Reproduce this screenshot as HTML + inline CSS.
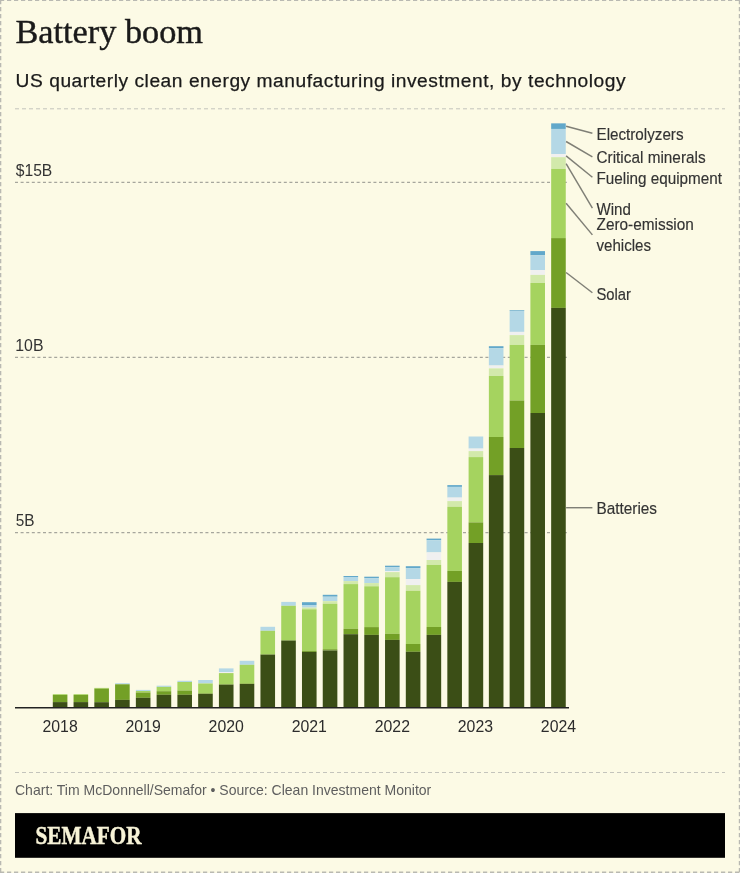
<!DOCTYPE html>
<html lang="en">
<head>
<meta charset="utf-8">
<title>Battery boom</title>
<style>
html,body{margin:0;padding:0;background:#fcfae5;}
body{width:740px;height:873px;background:#fcfae5;position:relative;overflow:hidden;font-family:"Liberation Sans",sans-serif;color:#333;}
#wrap{position:absolute;left:0;top:0;width:740px;height:873px;background:#fcfae5;}
svg{position:absolute;left:0;top:0;}
text.sa{font-family:"Liberation Sans",sans-serif;}
text.se{font-family:"Liberation Serif",serif;}
</style>
</head>
<body>
<div id="wrap">
<svg width="740" height="873" viewBox="0 0 740 873">
<g stroke="#b9b9b2" stroke-dasharray="4.2 2.8" fill="none">
<line x1="0" y1="0.5" x2="740" y2="0.5" stroke-width="1.1"/>
<line x1="0" y1="872.3" x2="740" y2="872.3" stroke-width="1.4"/>
<line x1="0.65" y1="0" x2="0.65" y2="873" stroke-width="1.3"/>
<line x1="739.4" y1="0" x2="739.4" y2="873" stroke-width="1.2"/>
</g>
<line x1="15" y1="108.8" x2="725" y2="108.8" stroke="#c4c4bc" stroke-width="1" stroke-dasharray="4 3"/>
<line x1="15" y1="772.5" x2="725" y2="772.5" stroke="#c4c4bc" stroke-width="1" stroke-dasharray="4 3"/>
<rect x="15" y="813.1" width="710" height="44.7" fill="#000"/>
<g id="grid">
<line x1="15" y1="182.4" x2="568" y2="182.4" stroke="#a6a69d" stroke-width="1.2" stroke-dasharray="3 2.6"/>
<line x1="15" y1="357.4" x2="568" y2="357.4" stroke="#a6a69d" stroke-width="1.2" stroke-dasharray="3 2.6"/>
<line x1="15" y1="532.7" x2="568" y2="532.7" stroke="#a6a69d" stroke-width="1.2" stroke-dasharray="3 2.6"/>
</g>
<g id="bars" shape-rendering="auto">
<rect x="52.8" y="694.2" width="14.6" height="0.8" fill="#a5d35f"/>
<rect x="52.8" y="695" width="14.6" height="7.1" fill="#73a026"/>
<rect x="52.8" y="702.1" width="14.6" height="4.9" fill="#3b4e16"/>
<rect x="73.56" y="694.2" width="14.6" height="0.8" fill="#a5d35f"/>
<rect x="73.56" y="695" width="14.6" height="7.1" fill="#73a026"/>
<rect x="73.56" y="702.1" width="14.6" height="4.9" fill="#3b4e16"/>
<rect x="94.33" y="687.9" width="14.6" height="0.8" fill="#a5d35f"/>
<rect x="94.33" y="688.7" width="14.6" height="13.5" fill="#73a026"/>
<rect x="94.33" y="702.2" width="14.6" height="4.8" fill="#3b4e16"/>
<rect x="115.09" y="683.2" width="14.6" height="1.1" fill="#b4d8e6"/>
<rect x="115.09" y="684.3" width="14.6" height="15.6" fill="#73a026"/>
<rect x="115.09" y="699.9" width="14.6" height="7.1" fill="#3b4e16"/>
<rect x="135.86" y="689.9" width="14.6" height="1.1" fill="#b4d8e6"/>
<rect x="135.86" y="691" width="14.6" height="1.5" fill="#a5d35f"/>
<rect x="135.86" y="692.5" width="14.6" height="5.3" fill="#73a026"/>
<rect x="135.86" y="697.8" width="14.6" height="9.2" fill="#3b4e16"/>
<rect x="156.62" y="685.7" width="14.6" height="1.2" fill="#b4d8e6"/>
<rect x="156.62" y="686.9" width="14.6" height="4.3" fill="#a5d35f"/>
<rect x="156.62" y="691.2" width="14.6" height="3.6" fill="#73a026"/>
<rect x="156.62" y="694.8" width="14.6" height="12.2" fill="#3b4e16"/>
<rect x="177.39" y="680.8" width="14.6" height="1.2" fill="#b4d8e6"/>
<rect x="177.39" y="682" width="14.6" height="8.5" fill="#a5d35f"/>
<rect x="177.39" y="690.5" width="14.6" height="4.3" fill="#73a026"/>
<rect x="177.39" y="694.8" width="14.6" height="12.2" fill="#3b4e16"/>
<rect x="198.16" y="680" width="14.6" height="3.5" fill="#b4d8e6"/>
<rect x="198.16" y="683.5" width="14.6" height="9.8" fill="#a5d35f"/>
<rect x="198.16" y="693.3" width="14.6" height="0.6" fill="#73a026"/>
<rect x="198.16" y="693.9" width="14.6" height="13.1" fill="#3b4e16"/>
<rect x="218.92" y="668.4" width="14.6" height="3.6" fill="#b4d8e6"/>
<rect x="218.92" y="672" width="14.6" height="1.1" fill="#f0f0f0"/>
<rect x="218.92" y="673.1" width="14.6" height="11.1" fill="#a5d35f"/>
<rect x="218.92" y="684.2" width="14.6" height="0.5" fill="#73a026"/>
<rect x="218.92" y="684.7" width="14.6" height="22.3" fill="#3b4e16"/>
<rect x="239.69" y="660.8" width="14.6" height="4" fill="#b4d8e6"/>
<rect x="239.69" y="664.8" width="14.6" height="18.6" fill="#a5d35f"/>
<rect x="239.69" y="683.4" width="14.6" height="0.6" fill="#73a026"/>
<rect x="239.69" y="684" width="14.6" height="23" fill="#3b4e16"/>
<rect x="260.45" y="626.8" width="14.6" height="4" fill="#b4d8e6"/>
<rect x="260.45" y="630.8" width="14.6" height="23.4" fill="#a5d35f"/>
<rect x="260.45" y="654.2" width="14.6" height="0.5" fill="#73a026"/>
<rect x="260.45" y="654.7" width="14.6" height="52.3" fill="#3b4e16"/>
<rect x="281.22" y="601.9" width="14.6" height="3.9" fill="#b4d8e6"/>
<rect x="281.22" y="605.8" width="14.6" height="34.4" fill="#a5d35f"/>
<rect x="281.22" y="640.2" width="14.6" height="0.4" fill="#73a026"/>
<rect x="281.22" y="640.6" width="14.6" height="66.4" fill="#3b4e16"/>
<rect x="301.98" y="602.2" width="14.6" height="2.8" fill="#62a8ca"/>
<rect x="301.98" y="605" width="14.6" height="2.6" fill="#b4d8e6"/>
<rect x="301.98" y="607.6" width="14.6" height="1.7" fill="#d2e9ab"/>
<rect x="301.98" y="609.3" width="14.6" height="41.5" fill="#a5d35f"/>
<rect x="301.98" y="650.8" width="14.6" height="1.1" fill="#73a026"/>
<rect x="301.98" y="651.9" width="14.6" height="55.1" fill="#3b4e16"/>
<rect x="322.75" y="594.8" width="14.6" height="1.9" fill="#62a8ca"/>
<rect x="322.75" y="596.7" width="14.6" height="4.5" fill="#b4d8e6"/>
<rect x="322.75" y="601.2" width="14.6" height="2.6" fill="#d2e9ab"/>
<rect x="322.75" y="603.8" width="14.6" height="45.4" fill="#a5d35f"/>
<rect x="322.75" y="649.2" width="14.6" height="1.3" fill="#73a026"/>
<rect x="322.75" y="650.5" width="14.6" height="56.5" fill="#3b4e16"/>
<rect x="343.51" y="576" width="14.6" height="1" fill="#62a8ca"/>
<rect x="343.51" y="577" width="14.6" height="4.1" fill="#b4d8e6"/>
<rect x="343.51" y="581.1" width="14.6" height="3" fill="#d2e9ab"/>
<rect x="343.51" y="584.1" width="14.6" height="44.7" fill="#a5d35f"/>
<rect x="343.51" y="628.8" width="14.6" height="5.4" fill="#73a026"/>
<rect x="343.51" y="634.2" width="14.6" height="72.8" fill="#3b4e16"/>
<rect x="364.28" y="576.7" width="14.6" height="1.4" fill="#62a8ca"/>
<rect x="364.28" y="578.1" width="14.6" height="5" fill="#b4d8e6"/>
<rect x="364.28" y="583.1" width="14.6" height="3.2" fill="#d2e9ab"/>
<rect x="364.28" y="586.3" width="14.6" height="40.8" fill="#a5d35f"/>
<rect x="364.28" y="627.1" width="14.6" height="7.8" fill="#73a026"/>
<rect x="364.28" y="634.9" width="14.6" height="72.1" fill="#3b4e16"/>
<rect x="385.04" y="565.7" width="14.6" height="1.4" fill="#62a8ca"/>
<rect x="385.04" y="567.1" width="14.6" height="4.1" fill="#b4d8e6"/>
<rect x="385.04" y="571.2" width="14.6" height="0.9" fill="#f0f0f0"/>
<rect x="385.04" y="572.1" width="14.6" height="5.1" fill="#d2e9ab"/>
<rect x="385.04" y="577.2" width="14.6" height="56.6" fill="#a5d35f"/>
<rect x="385.04" y="633.8" width="14.6" height="6.1" fill="#73a026"/>
<rect x="385.04" y="639.9" width="14.6" height="67.1" fill="#3b4e16"/>
<rect x="405.81" y="566.2" width="14.6" height="1.9" fill="#62a8ca"/>
<rect x="405.81" y="568.1" width="14.6" height="10.9" fill="#b4d8e6"/>
<rect x="405.81" y="579" width="14.6" height="6.1" fill="#f0f0f0"/>
<rect x="405.81" y="585.1" width="14.6" height="5.7" fill="#d2e9ab"/>
<rect x="405.81" y="590.8" width="14.6" height="53.2" fill="#a5d35f"/>
<rect x="405.81" y="644" width="14.6" height="7.8" fill="#73a026"/>
<rect x="405.81" y="651.8" width="14.6" height="55.2" fill="#3b4e16"/>
<rect x="426.57" y="538.6" width="14.6" height="1.6" fill="#62a8ca"/>
<rect x="426.57" y="540.2" width="14.6" height="12.2" fill="#b4d8e6"/>
<rect x="426.57" y="552.4" width="14.6" height="7.6" fill="#f0f0f0"/>
<rect x="426.57" y="560" width="14.6" height="4.9" fill="#d2e9ab"/>
<rect x="426.57" y="564.9" width="14.6" height="62.1" fill="#a5d35f"/>
<rect x="426.57" y="627" width="14.6" height="7.9" fill="#73a026"/>
<rect x="426.57" y="634.9" width="14.6" height="72.1" fill="#3b4e16"/>
<rect x="447.34" y="485.1" width="14.6" height="1.8" fill="#62a8ca"/>
<rect x="447.34" y="486.9" width="14.6" height="10.7" fill="#b4d8e6"/>
<rect x="447.34" y="497.6" width="14.6" height="3.5" fill="#f0f0f0"/>
<rect x="447.34" y="501.1" width="14.6" height="5.7" fill="#d2e9ab"/>
<rect x="447.34" y="506.8" width="14.6" height="64.1" fill="#a5d35f"/>
<rect x="447.34" y="570.9" width="14.6" height="11" fill="#73a026"/>
<rect x="447.34" y="581.9" width="14.6" height="125.1" fill="#3b4e16"/>
<rect x="468.6" y="436.5" width="14.6" height="12.1" fill="#b4d8e6"/>
<rect x="468.6" y="448.6" width="14.6" height="2.5" fill="#f0f0f0"/>
<rect x="468.6" y="451.1" width="14.6" height="6" fill="#d2e9ab"/>
<rect x="468.6" y="457.1" width="14.6" height="65.3" fill="#a5d35f"/>
<rect x="468.6" y="522.4" width="14.6" height="20.6" fill="#73a026"/>
<rect x="468.6" y="543" width="14.6" height="164" fill="#3b4e16"/>
<rect x="488.87" y="346.2" width="14.6" height="1.9" fill="#62a8ca"/>
<rect x="488.87" y="348.1" width="14.6" height="17.4" fill="#b4d8e6"/>
<rect x="488.87" y="365.5" width="14.6" height="2.9" fill="#f0f0f0"/>
<rect x="488.87" y="368.4" width="14.6" height="7.6" fill="#d2e9ab"/>
<rect x="488.87" y="376" width="14.6" height="61" fill="#a5d35f"/>
<rect x="488.87" y="437" width="14.6" height="38.1" fill="#73a026"/>
<rect x="488.87" y="475.1" width="14.6" height="231.9" fill="#3b4e16"/>
<rect x="509.63" y="310" width="14.6" height="0.8" fill="#62a8ca"/>
<rect x="509.63" y="310.8" width="14.6" height="21.1" fill="#b4d8e6"/>
<rect x="509.63" y="331.9" width="14.6" height="3.2" fill="#f0f0f0"/>
<rect x="509.63" y="335.1" width="14.6" height="9.8" fill="#d2e9ab"/>
<rect x="509.63" y="344.9" width="14.6" height="55.6" fill="#a5d35f"/>
<rect x="509.63" y="400.5" width="14.6" height="47.5" fill="#73a026"/>
<rect x="509.63" y="448" width="14.6" height="259" fill="#3b4e16"/>
<rect x="530.39" y="251.1" width="14.6" height="4.2" fill="#62a8ca"/>
<rect x="530.39" y="255.3" width="14.6" height="14.7" fill="#b4d8e6"/>
<rect x="530.39" y="270" width="14.6" height="4.9" fill="#f0f0f0"/>
<rect x="530.39" y="274.9" width="14.6" height="8.1" fill="#d2e9ab"/>
<rect x="530.39" y="283" width="14.6" height="61.9" fill="#a5d35f"/>
<rect x="530.39" y="344.9" width="14.6" height="68.1" fill="#73a026"/>
<rect x="530.39" y="413" width="14.6" height="294" fill="#3b4e16"/>
<rect x="551.16" y="123.35" width="14.6" height="5.6" fill="#62a8ca"/>
<rect x="551.16" y="128.95" width="14.6" height="25.15" fill="#b4d8e6"/>
<rect x="551.16" y="154.1" width="14.6" height="3.1" fill="#f0f0f0"/>
<rect x="551.16" y="157.2" width="14.6" height="11.7" fill="#d2e9ab"/>
<rect x="551.16" y="168.9" width="14.6" height="69.2" fill="#a5d35f"/>
<rect x="551.16" y="238.1" width="14.6" height="69.8" fill="#73a026"/>
<rect x="551.16" y="307.9" width="14.6" height="399.1" fill="#3b4e16"/>
</g>
<line x1="15" y1="707.7" x2="569" y2="707.7" stroke="#222" stroke-width="1.6"/>
<g id="leaders">
<line x1="566.1" y1="126.2" x2="592.4" y2="133.2" stroke="#7f7f76" stroke-width="1.45"/>
<line x1="566.1" y1="141.5" x2="592.4" y2="156.9" stroke="#7f7f76" stroke-width="1.45"/>
<line x1="566.1" y1="155.9" x2="592.4" y2="177.3" stroke="#7f7f76" stroke-width="1.45"/>
<line x1="566.1" y1="163.6" x2="592.4" y2="208.2" stroke="#7f7f76" stroke-width="1.45"/>
<line x1="566.1" y1="203.2" x2="592.4" y2="234.9" stroke="#7f7f76" stroke-width="1.45"/>
<line x1="566.1" y1="272.5" x2="592.4" y2="292.7" stroke="#7f7f76" stroke-width="1.45"/>
<line x1="566.1" y1="507.7" x2="592.4" y2="507.7" stroke="#7f7f76" stroke-width="1.45"/>
</g>
</svg>
<svg id="txt" width="740" height="873" viewBox="0 0 740 873">
<text class="se" x="15.4" y="42.9" font-size="33.6" fill="#1a1a1a" textLength="187.6" lengthAdjust="spacingAndGlyphs" stroke="#1a1a1a" stroke-width="0.4">Battery boom</text>
<text class="sa" x="15.6" y="87.45" font-size="19.2" fill="#1a1a1a" textLength="610" lengthAdjust="spacing" stroke="#1a1a1a" stroke-width="0.25">US quarterly clean energy manufacturing investment, by technology</text>
<text class="sa" x="15.8" y="175.5" font-size="16" fill="#333" textLength="36.5" lengthAdjust="spacingAndGlyphs">$15B</text>
<text class="sa" x="15.3" y="350.5" font-size="16" fill="#333" textLength="28.2" lengthAdjust="spacingAndGlyphs">10B</text>
<text class="sa" x="15.8" y="525.8" font-size="16" fill="#333" textLength="18.8" lengthAdjust="spacingAndGlyphs">5B</text>
<text class="sa" x="60.1" y="731.8" font-size="16" fill="#2c2c2c" text-anchor="middle" textLength="35.2" lengthAdjust="spacingAndGlyphs">2018</text>
<text class="sa" x="143.16" y="731.8" font-size="16" fill="#2c2c2c" text-anchor="middle" textLength="35.2" lengthAdjust="spacingAndGlyphs">2019</text>
<text class="sa" x="226.22" y="731.8" font-size="16" fill="#2c2c2c" text-anchor="middle" textLength="35.2" lengthAdjust="spacingAndGlyphs">2020</text>
<text class="sa" x="309.28" y="731.8" font-size="16" fill="#2c2c2c" text-anchor="middle" textLength="35.2" lengthAdjust="spacingAndGlyphs">2021</text>
<text class="sa" x="392.34" y="731.8" font-size="16" fill="#2c2c2c" text-anchor="middle" textLength="35.2" lengthAdjust="spacingAndGlyphs">2022</text>
<text class="sa" x="475.4" y="731.8" font-size="16" fill="#2c2c2c" text-anchor="middle" textLength="35.2" lengthAdjust="spacingAndGlyphs">2023</text>
<text class="sa" x="558.46" y="731.8" font-size="16" fill="#2c2c2c" text-anchor="middle" textLength="35.2" lengthAdjust="spacingAndGlyphs">2024</text>
<text class="sa" x="596.5" y="140" font-size="15.7" fill="#333" textLength="87" lengthAdjust="spacingAndGlyphs" stroke="#333" stroke-width="0.15">Electrolyzers</text>
<text class="sa" x="596.5" y="163.2" font-size="15.7" fill="#333" textLength="109.1" lengthAdjust="spacingAndGlyphs" stroke="#333" stroke-width="0.15">Critical minerals</text>
<text class="sa" x="596.5" y="184.2" font-size="15.7" fill="#333" textLength="125.5" lengthAdjust="spacingAndGlyphs" stroke="#333" stroke-width="0.15">Fueling equipment</text>
<text class="sa" x="596.5" y="215" font-size="15.7" fill="#333" textLength="34.4" lengthAdjust="spacingAndGlyphs" stroke="#333" stroke-width="0.15">Wind</text>
<text class="sa" x="596.5" y="230.3" font-size="15.7" fill="#333" textLength="97.4" lengthAdjust="spacingAndGlyphs" stroke="#333" stroke-width="0.15">Zero-emission</text>
<text class="sa" x="596.5" y="251" font-size="15.7" fill="#333" textLength="54.5" lengthAdjust="spacingAndGlyphs" stroke="#333" stroke-width="0.15">vehicles</text>
<text class="sa" x="596.5" y="300" font-size="15.7" fill="#333" textLength="34.5" lengthAdjust="spacingAndGlyphs" stroke="#333" stroke-width="0.15">Solar</text>
<text class="sa" x="596.5" y="513.5" font-size="15.7" fill="#333" textLength="60.5" lengthAdjust="spacingAndGlyphs" stroke="#333" stroke-width="0.15">Batteries</text>
<text class="sa" x="15" y="795" font-size="15" fill="#5e5e5e" textLength="416.3" lengthAdjust="spacingAndGlyphs">Chart: Tim McDonnell/Semafor • Source: Clean Investment Monitor</text>
<text class="se" x="35.5" y="843.8" font-size="25.5" fill="#f7f3d7" font-weight="700" textLength="106" lengthAdjust="spacingAndGlyphs" stroke="#f7f3d7" stroke-width="0.5">SEMAFOR</text>
</svg>
</div>
</body>
</html>
